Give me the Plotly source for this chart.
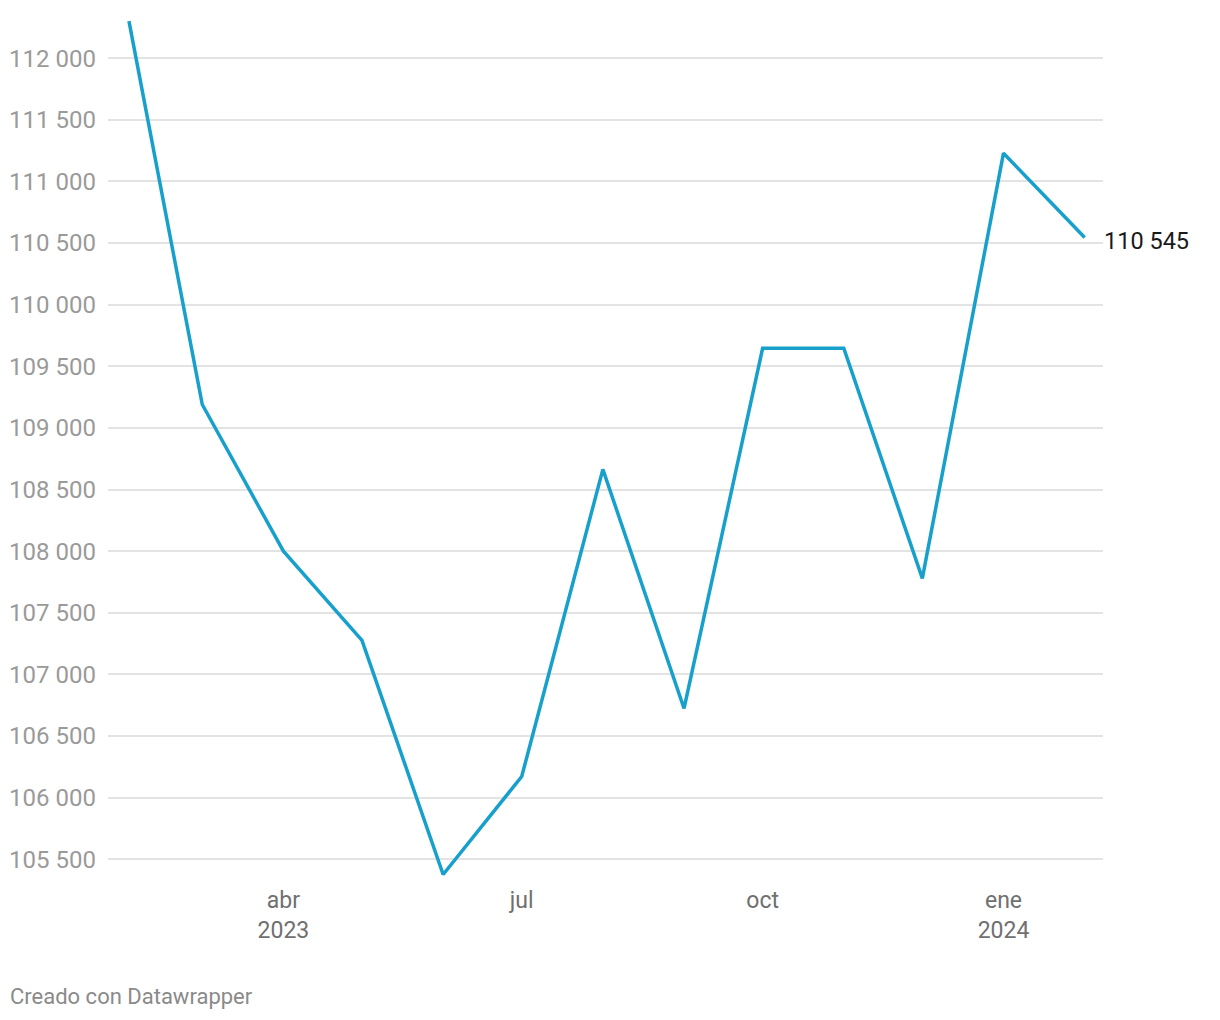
import plotly.graph_objects as go

months = ["2023-02-01", "2023-03-01", "2023-04-01", "2023-05-01", "2023-06-01",
          "2023-07-01", "2023-08-01", "2023-09-01", "2023-10-01", "2023-11-01",
          "2023-12-01", "2024-01-01", "2024-02-01"]
values = [112300, 109190, 108000, 107276, 105377, 106172, 108664, 106724,
          109646, 109646, 107779, 111229, 110545]

y_ticks = [105500, 106000, 106500, 107000, 107500, 108000, 108500, 109000,
           109500, 110000, 110500, 111000, 111500, 112000]
y_tick_labels = [f"{v:,}".replace(",", " ") for v in y_ticks]

x_ticks = ["2023-04-01", "2023-07-01", "2023-10-01", "2024-01-01"]
x_tick_labels = ["abr<br>2023", "jul", "oct", "ene<br>2024"]

end_label = f"{values[-1]:,}".replace(",", " ")

fig = go.Figure()
fig.add_trace(go.Scatter(
    x=months, y=values, mode="lines",
    line=dict(color="#18a0cc", width=3.5),
    hoverinfo="skip", showlegend=False,
))

fig.add_annotation(
    x=months[-1], y=values[-1], text=end_label, showarrow=False,
    xanchor="left", yanchor="middle", xshift=17, yshift=-4,
    font=dict(family="Roboto", size=23.5, color="#1a1a1a"),
)

fig.add_annotation(
    xref="paper", yref="paper", x=0, y=0, text="Creado con Datawrapper",
    showarrow=False, xanchor="left", yanchor="middle",
    xshift=-100, yshift=-112,
    font=dict(family="Roboto", size=22, color="#8a8a8a"),
)

fig.update_layout(
    width=1220, height=1020,
    margin=dict(l=108, r=117, t=15, b=136),
    plot_bgcolor="white", paper_bgcolor="white",
    font=dict(family="Roboto"),
    xaxis=dict(
        type="date", range=["2023-01-24", "2024-02-08"],
        tickvals=x_ticks, ticktext=x_tick_labels,
        showgrid=False, zeroline=False, showline=False, ticks="",
        tickfont=dict(size=23, color="#707070"),
        automargin=False,
    ),
    yaxis=dict(
        range=[105300, 112350],
        tickvals=y_ticks, ticktext=y_tick_labels,
        showgrid=True, gridcolor="#e3e3e3", gridwidth=1.5,
        zeroline=False, showline=False, ticks="",
        tickfont=dict(size=24, color="#9a9a9a"),
        ticklabelstandoff=11,
        automargin=False,
    ),
)

fig.write_html("out.html")
